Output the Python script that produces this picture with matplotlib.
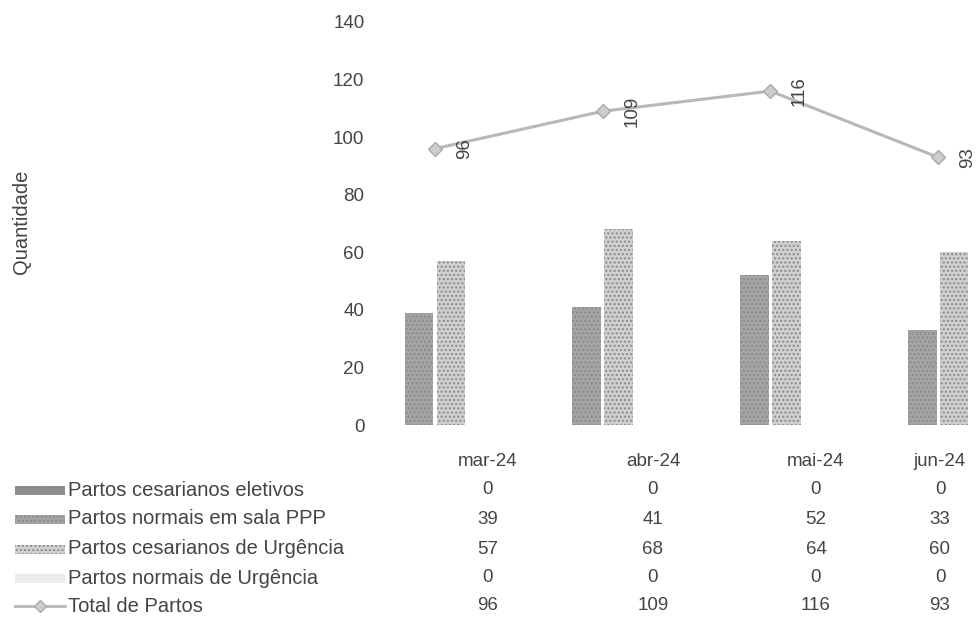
import matplotlib
matplotlib.use("Agg")
import matplotlib.pyplot as plt
from matplotlib.patches import Rectangle
from matplotlib.lines import Line2D

plt.rcParams['font.family'] = ['Liberation Sans', 'DejaVu Sans']

months = ["mar-24", "abr-24", "mai-24", "jun-24"]
ces_eletivos = [0, 0, 0, 0]
normais_ppp = [39, 41, 52, 33]
ces_urgencia = [57, 68, 64, 60]
normais_urgencia = [0, 0, 0, 0]
total = [96, 109, 116, 93]

series_names = ["Partos cesarianos eletivos", "Partos normais em sala PPP",
                "Partos cesarianos de Urgência", "Partos normais de Urgência",
                "Total de Partos"]
yticks = [0, 20, 40, 60, 80, 100, 120, 140]

W, H = 979, 621
fig = plt.figure(figsize=(W / 100, H / 100), dpi=100)
ax = fig.add_axes([370 / W, (H - 425) / H, 609 / W, 403 / H])

txt_color = "#444444"
fs = 13.5
fs_lbl = 14.5
bar_colors = ["#8e8e8e", "#a4a4a4", "#d0d0d0", "#eeeeee"]
line_color = "#b8b8b8"

step = 0.19
bw = 0.172
xs = list(range(len(months)))
all_bars = [ces_eletivos, normais_ppp, ces_urgencia, normais_urgencia]
offsets = [-1.5, -0.5, 0.5, 1.5]
for vals, off, col in zip(all_bars, offsets, bar_colors):
    ax.bar([x + off * step for x in xs], vals, width=bw, color=col,
           hatch="....", edgecolor="#8a8a8a" if col != "#eeeeee" else "#e0e0e0",
           linewidth=0)

ax.plot(xs, total, color=line_color, lw=2.2, marker="D", ms=7,
        markerfacecolor="#cccccc", markeredgecolor="#aaaaaa", zorder=3)
for x, v in zip(xs, total):
    ax.annotate(str(v), (x, v), xytext=(21, 0), textcoords="offset points",
                rotation=90, ha="center", va="center", fontsize=fs,
                color=txt_color)

ax.set_xlim((370 - 435) / 167.7, (979 - 435) / 167.7)
ax.set_ylim(0, 140)
ax.set_yticks(yticks)
ax.set_yticklabels([str(t) for t in yticks], fontsize=fs, color=txt_color)
ax.tick_params(axis="y", length=0, pad=4)
ax.set_xticks([])
for s in ax.spines.values():
    s.set_visible(False)

fig.text(22 / W, 1 - 222 / H, "Quantidade", rotation=90, ha="center",
         va="center", fontsize=fs_lbl, color=txt_color)

# data table below the chart
col_px = [488, 653, 816, 940]
row_px = [462, 490, 519, 549, 578, 606]
for cx, m in zip(col_px, months):
    fig.text(cx / W, 1 - row_px[0] / H, m, ha="center", va="center",
             fontsize=fs, color=txt_color)
table_rows = [ces_eletivos, normais_ppp, ces_urgencia, normais_urgencia, total]
for r, (name, vals) in enumerate(zip(series_names, table_rows)):
    ry = 1 - row_px[r + 1] / H
    fig.text(68 / W, ry, name, ha="left", va="center", fontsize=fs_lbl,
             color=txt_color)
    for cx, v in zip(col_px, vals):
        fig.text(cx / W, ry, str(v), ha="center", va="center",
                 fontsize=fs, color=txt_color)
    if r < 4:
        fig.patches.append(Rectangle((15 / W, ry - 5 / H), 50 / W, 9 / H,
                                     transform=fig.transFigure,
                                     facecolor=bar_colors[r], hatch="....",
                                     edgecolor="#8a8a8a" if r < 3 else "#e6e6e6",
                                     linewidth=0))
    else:
        fig.lines.append(Line2D([15 / W, 65 / W], [ry, ry],
                                transform=fig.transFigure, color=line_color,
                                lw=2, marker=None))
        fig.lines.append(Line2D([40 / W], [ry], transform=fig.transFigure,
                                marker="D", ms=6, color="#cccccc",
                                markeredgecolor="#aaaaaa", lw=0))

fig.savefig("out.png", dpi=100, facecolor="white")
